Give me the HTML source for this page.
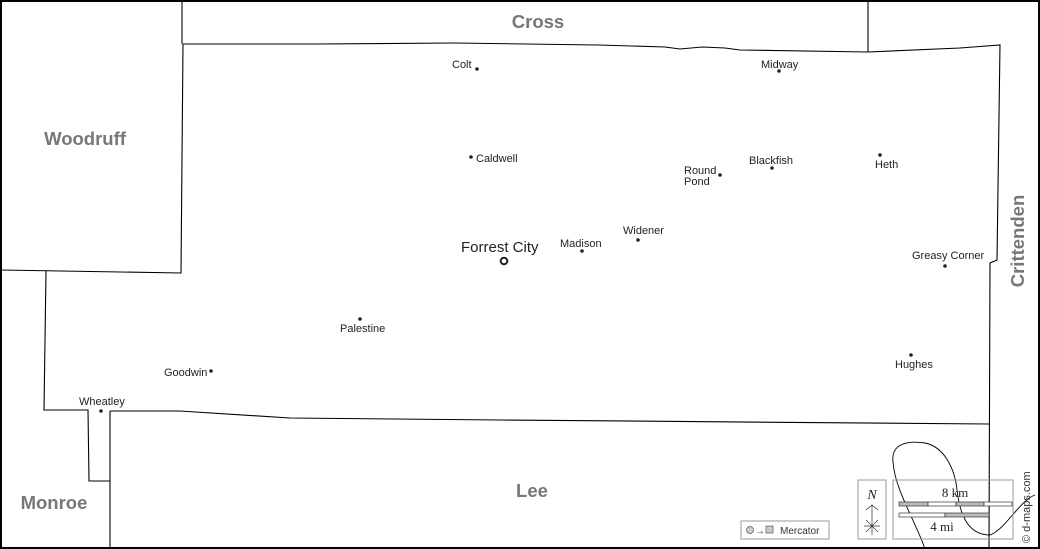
<!DOCTYPE html>
<html><head><meta charset="utf-8"><style>
html,body{margin:0;padding:0;background:#fff}
svg{display:block}
text{font-family:"Liberation Sans",Arial,sans-serif}
.c{font-size:11px;fill:#222}
.cty{font-size:18.5px;font-weight:bold;fill:#777}
.ser{font-family:"Liberation Serif",serif}
</style></head><body>
<svg width="1040" height="549" viewBox="0 0 1040 549" xmlns="http://www.w3.org/2000/svg">
<rect x="1" y="1" width="1038" height="547" fill="#fff" stroke="#000" stroke-width="2"/>
<g fill="none" stroke="#000" stroke-width="1.1">
<polyline points="182,1 182,44"/>
<polyline points="868,1 868,52"/>
<polyline points="183,44 315,44 455,43 598,45 665,47 680,49 702,47 725,48 740,50 868,52 960,48 1000,45 997,260 990,263 989,549"/>
<polyline points="183,44 181,273 1,270"/>
<polyline points="46,271 44,410 88,410 89,481 110,481 110,549"/>
<polyline points="110,411 180,411 290,418 500,420 989,424"/>
<polyline points="110,411 110,481"/>
<path d="M925,549 C915,520 895,490 893,462 C891,445 905,440 925,443 C945,447 955,470 957,490 C960,515 968,535 990,535 C1005,530 1020,500 1035,495" stroke-width="0.9"/>
</g>
<text class="cty" x="538" y="28" text-anchor="middle">Cross</text>
<text class="cty" x="85" y="145" text-anchor="middle">Woodruff</text>
<text class="cty" x="54" y="509" text-anchor="middle">Monroe</text>
<text class="cty" x="532" y="497" text-anchor="middle">Lee</text>
<text class="cty" transform="translate(1024,241) rotate(-90)" text-anchor="middle">Crittenden</text>
<g fill="#222">
<circle cx="477" cy="69" r="1.8"/><text class="c" x="452" y="68">Colt</text>
<circle cx="779" cy="71" r="1.8"/><text class="c" x="761" y="68">Midway</text>
<circle cx="471" cy="157" r="1.8"/><text class="c" x="476" y="162">Caldwell</text>
<circle cx="720" cy="175" r="1.8"/><text class="c" x="684" y="174">Round</text><text class="c" x="684" y="185">Pond</text>
<circle cx="772" cy="168" r="1.8"/><text class="c" x="749" y="164">Blackfish</text>
<circle cx="880" cy="155" r="1.8"/><text class="c" x="875" y="168">Heth</text>
<circle cx="638" cy="240" r="1.8"/><text class="c" x="623" y="234">Widener</text>
<circle cx="582" cy="251" r="1.8"/><text class="c" x="560" y="247">Madison</text>
<circle cx="945" cy="266" r="1.8"/><text class="c" x="912" y="259">Greasy Corner</text>
<circle cx="360" cy="319" r="1.8"/><text class="c" x="340" y="332">Palestine</text>
<circle cx="211" cy="371" r="1.8"/><text class="c" x="164" y="376">Goodwin</text>
<circle cx="911" cy="355" r="1.8"/><text class="c" x="895" y="368">Hughes</text>
<circle cx="101" cy="411" r="1.8"/><text class="c" x="79" y="405">Wheatley</text>
</g>
<text x="461" y="252" font-size="15" fill="#222">Forrest City</text>
<circle cx="504" cy="261" r="3.3" fill="none" stroke="#222" stroke-width="2"/>
<rect x="858" y="480" width="28" height="59" fill="none" stroke="#999"/>
<text class="ser" x="872" y="499" style="font-size:14px;font-style:italic" text-anchor="middle" fill="#222">N</text>
<path d="M872,505 V535 M866,510 L872,505 L878,510 M864,526 H880 M866,520 L878,532 M878,520 L866,532" stroke="#333" fill="none" stroke-width="0.7"/>
<rect x="893" y="480" width="120" height="59" fill="none" stroke="#999"/>
<text class="ser" x="955" y="497" style="font-size:13px" text-anchor="middle" fill="#222">8 km</text>
<g stroke="#333" stroke-width="0.7">
<rect x="899" y="502" width="29" height="4" fill="#bbb"/><rect x="928" y="502" width="28" height="4" fill="#fff"/><rect x="956" y="502" width="28" height="4" fill="#bbb"/><rect x="984" y="502" width="28" height="4" fill="#fff"/>
<rect x="899" y="513" width="46" height="4" fill="#fff"/><rect x="945" y="513" width="44" height="4" fill="#bbb"/>
</g>
<text class="ser" x="942" y="531" style="font-size:13px" text-anchor="middle" fill="#222">4 mi</text>
<text transform="translate(1030,543) rotate(-90)" font-size="11" fill="#333">© d-maps.com</text>
<rect x="741" y="521" width="88" height="18" fill="#fff" stroke="#999"/>
<circle cx="750" cy="530" r="3.5" fill="#ccc" stroke="#555" stroke-width="0.7"/>
<text x="755" y="534" font-size="10" fill="#333">→</text>
<rect x="766" y="526" width="7" height="7" fill="#ccc" stroke="#555" stroke-width="0.7"/>
<text x="780" y="534" font-size="10" fill="#333">Mercator</text>
</svg>
</body></html>
